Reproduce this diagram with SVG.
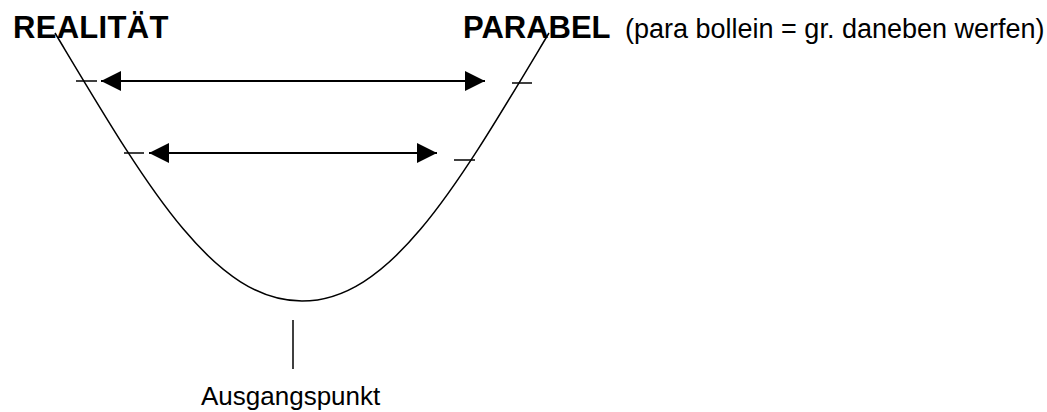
<svg xmlns="http://www.w3.org/2000/svg" width="1047" height="412" viewBox="0 0 1047 412">
  <style>
    .title { font-family: "Liberation Sans", Arial, sans-serif; font-weight: bold; font-size: 31px; fill: #000; }
    .note { font-family: "Liberation Sans", Arial, sans-serif; font-size: 27px; fill: #000; }
    .label { font-family: "Liberation Sans", Arial, sans-serif; font-size: 26px; fill: #000; }
    .curve { fill: none; stroke: #000; stroke-width: 1.5; }
    .arrow { stroke: #000; stroke-width: 2; fill: none; marker-start: url(#head); marker-end: url(#head); }
    .tick { stroke: #000; stroke-width: 1.5; }
    .pointer { stroke: #000; stroke-width: 1.5; }
  </style>
  <defs>
    <marker id="head" viewBox="0 0 20 20" refX="20" refY="10" markerWidth="20" markerHeight="20" markerUnits="userSpaceOnUse" orient="auto-start-reverse">
      <path d="M0,0 L20,10 L0,20 Z" fill="#000"/>
    </marker>
  </defs>

  <!-- headings -->
  <g id="realitaet">
    <text class="title" x="13" y="38" letter-spacing="0.3">REALITÄT</text>
  </g>
  <g id="parabel">
    <text class="title" x="463" y="38">PARABEL</text>
    <text class="note" x="625" y="38">(para bollein = gr. daneben werfen)</text>
  </g>

  <!-- the parabola -->
  <g id="parabola">
    <path class="curve" d="M55,33 C145,183 212,301 302,301 C392,301 459,183 549,33"/>
  </g>

  <!-- start point label -->
  <g id="ausgangspunkt">
    <line class="pointer" x1="293" y1="320" x2="293" y2="369"/>
    <text class="label" x="201" y="405">Ausgangspunkt</text>
  </g>

  <!-- double arrows and tick marks -->
  <g id="connectors">
    <line class="arrow" x1="101" y1="81" x2="485" y2="81"/>
    <line class="arrow" x1="149" y1="153" x2="437" y2="153"/>
    <line class="tick" x1="76" y1="81" x2="97" y2="81"/>
    <line class="tick" x1="512" y1="83" x2="532" y2="83"/>
    <line class="tick" x1="124" y1="153" x2="144" y2="153"/>
    <line class="tick" x1="454" y1="160" x2="475" y2="160"/>
  </g>
</svg>
